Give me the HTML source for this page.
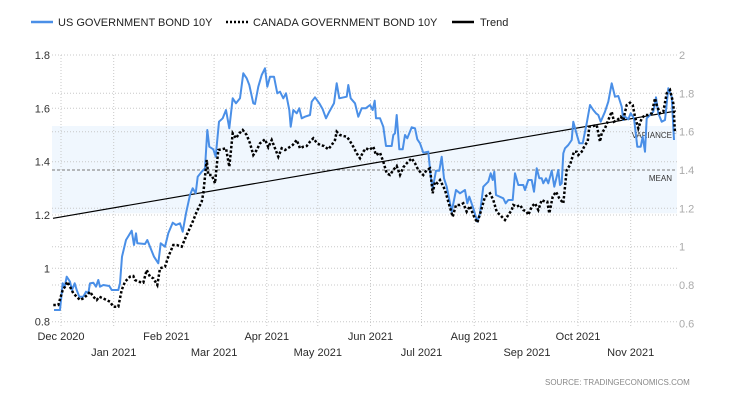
<!DOCTYPE html>
<html><head><meta charset="utf-8"><style>
html,body{margin:0;padding:0;background:#fff;}
svg{display:block;font-family:"Liberation Sans",Arial,sans-serif;}
</style></head><body>
<svg width="730" height="400" viewBox="0 0 730 400" xmlns="http://www.w3.org/2000/svg">
<rect width="730" height="400" fill="#fff"/>
<rect x="52" y="126" width="625" height="87.3" fill="#f0f7fe"/>
<g stroke="#c8c8c8" stroke-width="1" stroke-dasharray="1,2" fill="none">
<line x1="52" y1="55" x2="677" y2="55"/>
<line x1="52" y1="108.3" x2="677" y2="108.3"/>
<line x1="52" y1="161.7" x2="677" y2="161.7"/>
<line x1="52" y1="215" x2="677" y2="215"/>
<line x1="52" y1="268.3" x2="677" y2="268.3"/>
<line x1="52" y1="321.7" x2="677" y2="321.7"/>
<line x1="52" y1="93.3" x2="677" y2="93.3"/>
<line x1="52" y1="131.7" x2="677" y2="131.7"/>
<line x1="52" y1="208.3" x2="677" y2="208.3"/>
<line x1="52" y1="246.7" x2="677" y2="246.7"/>
<line x1="52" y1="285" x2="677" y2="285"/>
<line x1="61" y1="55" x2="61" y2="326"/>
<line x1="113.7" y1="55" x2="113.7" y2="326"/>
<line x1="166.4" y1="55" x2="166.4" y2="326"/>
<line x1="214.1" y1="55" x2="214.1" y2="326"/>
<line x1="266.8" y1="55" x2="266.8" y2="326"/>
<line x1="317.8" y1="55" x2="317.8" y2="326"/>
<line x1="370.5" y1="55" x2="370.5" y2="326"/>
<line x1="421.5" y1="55" x2="421.5" y2="326"/>
<line x1="474.2" y1="55" x2="474.2" y2="326"/>
<line x1="527" y1="55" x2="527" y2="326"/>
<line x1="578" y1="55" x2="578" y2="326"/>
<line x1="630.7" y1="55" x2="630.7" y2="326"/>
</g>
<line x1="52" y1="170" x2="677" y2="170" stroke="#777" stroke-width="1" stroke-dasharray="3,2"/>
<text x="672" y="181" font-size="8" fill="#333" text-anchor="end">MEAN</text>
<text x="672" y="138" font-size="8" fill="#333" text-anchor="end">VARIANCE</text>
<line x1="53" y1="218.3" x2="676" y2="111" stroke="#000" stroke-width="1.2"/>
<polyline fill="none" stroke="#4a8fe7" stroke-width="2" stroke-linejoin="round" points="54,310 60,310 62.7,283.3 64.7,286.7 66.7,276.7 70,281.7 72,290 74.7,283.3 76.7,290 79.3,296.7 83.3,296.7 86,291.7 88.3,293.3 90,283.3 93.3,282.7 96,286.7 98.3,280 100,286.7 103.3,285 109.3,286 111.7,290 118.3,290 120,283.3 122,256.7 126,240 131.7,230.7 134,245 136,233.3 137.3,243.3 145,244 147.3,240 150,246.7 154,256.7 158.3,263.3 160.7,243.3 165,246.7 168.3,233.3 172.7,222.7 176,225 180,223.3 182.7,231.7 186,213.3 190,195 192.7,188.3 195.7,193.3 197.7,176.7 201.7,171.7 205,168.3 207.3,130 209.3,146.7 213.3,149.3 215.7,156.7 219,121.7 222.7,118.3 226,110 229.3,128.3 232.7,98.3 236,103.3 240,98.3 243.3,73.3 246.7,78.3 249.3,85 253.3,103.3 255,104 258.3,86.7 261.7,75 265,68.3 267.3,86.7 270,76.7 274,76.7 277.3,93.3 280,91.7 283.3,98.3 286,93.3 289.3,110 290.7,126.7 293.3,110 296.7,113.3 299.3,108.3 301.7,118.3 305,116.7 310,115 311.7,101.7 315,97.3 319.3,103.3 322.7,109.3 326,118.3 329.3,111.7 334,103.3 336.7,83.3 339.3,98.3 346.7,96.7 348.3,85 350.7,98.3 355,103.3 358.3,116.7 361.7,108.3 365.7,108.3 370,105 372.7,110 374.7,100.7 376,118.3 380,118.3 383.3,126.7 386,146 391.7,146 393.3,135 395,133.3 396.7,115 399.3,149.3 402.7,149.3 405,135 407.3,138.3 411.7,127.3 415,128.3 417.3,139.3 420,143.3 423.3,152.7 428.3,151.7 430.7,176.7 432.7,188.3 436,170.7 439.3,170.7 441.7,156.7 444,178.3 446.7,186.7 451.7,211.7 456,190 460,193.3 465,190 467.3,203.3 469.3,196.7 473.3,208.3 477.3,221.7 480,213.3 483.3,186.7 488.3,181.7 490.7,173.3 492.7,180 494.3,171.7 496,195 503.3,198.3 505.7,203.3 508.3,200 512.7,200 515,173.3 518.3,185 523.3,185 525,190 528.3,180 531.7,180 534,191.7 536.7,168.3 539.3,178.3 541.7,178.3 543.3,183.3 546,178.3 548.3,183.3 551.7,170.7 554.3,186.7 558.3,170 560,185 561.7,183.3 563.3,153.3 565,148.3 568.3,145 571.7,140 573.3,121.7 576,131.7 579.3,143.3 582.7,143.3 586.7,123.3 590,105 593.3,110 596,113.3 598.3,115 600.7,121.7 605,111.7 608.3,101.7 611.7,83.3 615,96.7 618.3,96 621.7,106.7 623.3,120 625,116.7 628.3,119.3 630.7,113.3 634,118.3 637.3,146.7 640.7,146.7 642.7,136.7 645,151.7 646.7,118.3 650,115 653.3,111.7 656,97.3 658.3,113.3 661.7,121.7 665,120 668.3,88.3 671.7,96.7 674,140"/>
<polyline fill="none" stroke="#000" stroke-width="2.5" stroke-dasharray="2.5,2" points="53.3,305 58.3,305 62.7,290 65,286.7 67.3,281.7 70,286.7 73.3,293.3 76.7,296.7 80,300 83.3,298.3 87.3,295 90,291.7 93.3,296.7 96.7,300 99.3,296.7 105,299.3 110,301.7 113.3,306.7 118.3,306.7 121.7,290 125,281.7 130,276.7 133.3,276 135,280 138.3,281.7 143.3,282.7 146.7,270 150,276.7 153.3,278.3 157.3,285 160,268.3 165,266.7 168.3,256.7 173.3,245 176.7,245 181.7,246.7 186.7,235 192.7,221.7 196.7,211.7 201.7,201.7 203.3,193.3 206.7,160 208.3,175 211.7,175 215,183.3 218.3,150 221.7,149.3 226,148.3 229.3,166.7 232.7,133.3 236,138.3 239.3,133.3 242.7,130 246.7,135 250,143.3 253.3,155 256.7,150 260,143.3 265,139.3 268.3,147.3 271.7,140 275,148.3 278.3,156.7 281.7,148.3 285,150 289.3,147.3 292.7,145 296.7,140 300,148.3 303.3,146.7 306.7,146 310,141.7 313.3,138.3 316.7,142.7 320,145 324,146 328.3,149.3 331.7,145 335,140 336.7,131.7 340,135 343.3,136 346.7,136.7 349.3,140 353.3,146.7 356.7,153.3 360,158.3 363.3,151.7 366,148.3 369.3,150 373.3,146.7 376,155 380,152.7 383.3,161.7 386.7,173.3 390,175 393.3,170 396.7,166 400,175 403.3,167.3 406.7,163.3 411.7,158.3 415,163.3 418.3,170 423.3,175 426.7,170 430,168.3 432.7,193.3 435,181.7 437.3,183.3 440,180 441.7,183.3 445,190 448.3,201.7 452.7,216.7 456,205 460,205 463.3,203.3 466.7,211.7 470,206 473.3,215 477.3,222.7 480.7,211.7 485,196.7 490,193.3 493.3,200 496.7,211.7 500,215 505,220 508.3,215 511.7,210 513.3,205 516.7,206.7 520,205 523.3,210 526.7,211.7 528.3,215 531.7,206.7 535,203.3 538.3,210 541.7,200 545,201.7 547.3,201.7 549.3,213.3 552.7,196.7 556,191.7 559.3,198.3 563.3,203.3 566.7,170 570,165 574,151.7 576.7,151.7 578.3,155 581.7,151.7 585,145 587.7,141.7 589.3,126.7 593.3,126 596.7,125 600,141.7 601.7,133.3 605,128.3 608.3,120 611.7,111.7 614,121.7 617.3,120 620.7,116.7 623.3,120 626.7,105 630,102.7 632.7,105 635,116.7 638.3,128.3 641.7,118.3 645,115 648.3,115 651.7,113.3 655,98.3 656.7,105 660,113.3 663.3,111.7 666.7,93.3 670,90 673.3,103.3 675,133.3"/>
<g font-size="11" fill="#333" text-anchor="end">
<text x="50" y="59">1.8</text>
<text x="50" y="112.3">1.6</text>
<text x="50" y="165.7">1.4</text>
<text x="50" y="219">1.2</text>
<text x="50" y="272.3">1</text>
<text x="50" y="325.7">0.8</text>
</g>
<g font-size="11" fill="#aaa" text-anchor="start">
<text x="679" y="59">2</text>
<text x="679" y="97.3">1.8</text>
<text x="679" y="135.7">1.6</text>
<text x="679" y="174">1.4</text>
<text x="679" y="212.3">1.2</text>
<text x="679" y="250.7">1</text>
<text x="679" y="289">0.8</text>
<text x="679" y="327.3">0.6</text>
</g>
<g font-size="11" fill="#2b2b2b" text-anchor="middle">
<text x="61" y="340">Dec 2020</text>
<text x="166.4" y="340">Feb 2021</text>
<text x="266.8" y="340">Apr 2021</text>
<text x="370.5" y="340">Jun 2021</text>
<text x="474.2" y="340">Aug 2021</text>
<text x="578" y="340">Oct 2021</text>
<text x="113.7" y="356">Jan 2021</text>
<text x="214.1" y="356">Mar 2021</text>
<text x="317.8" y="356">May 2021</text>
<text x="421.5" y="356">Jul 2021</text>
<text x="527" y="356">Sep 2021</text>
<text x="630.7" y="356">Nov 2021</text>
</g>
<line x1="31" y1="22" x2="53" y2="22" stroke="#4a8fe7" stroke-width="2.5"/>
<text x="58" y="26" font-size="11" fill="#222">US GOVERNMENT BOND 10Y</text>
<line x1="226" y1="22" x2="248" y2="22" stroke="#000" stroke-width="2.5" stroke-dasharray="2,2"/>
<text x="253" y="26" font-size="11" fill="#222">CANADA GOVERNMENT BOND 10Y</text>
<line x1="452" y1="22" x2="474" y2="22" stroke="#000" stroke-width="2.5"/>
<text x="480" y="26" font-size="11" fill="#222">Trend</text>
<text x="545" y="385" font-size="8" fill="#888">SOURCE:  TRADINGECONOMICS.COM</text>
</svg>
</body></html>
